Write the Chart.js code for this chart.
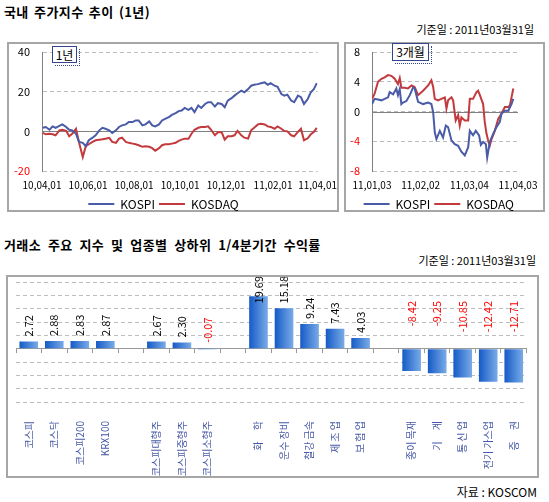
<!DOCTYPE html>
<html>
<head>
<meta charset="utf-8">
<script src="https://cdn.jsdelivr.net/npm/chart.js@4.4.1/dist/chart.umd.min.js"></script>
<style>
  body { margin: 0; width: 549px; height: 502px; background: #fff; position: relative; overflow: hidden;
         font-family: "Noto Sans CJK KR", "Noto Sans", sans-serif; color: #000; }
  .t { position: absolute; font-size: 13px; line-height: 13px; font-weight: bold; white-space: nowrap; letter-spacing: 0.4px; word-spacing: 2px; }
  .d { position: absolute; font-size: 11px; line-height: 11px; white-space: nowrap; }
  .box { position: absolute; border: 2px solid #a6a6a6; box-sizing: border-box; }
  .box canvas { position: absolute; left: 0; top: 0; }
  .tag { position: absolute; border: 1px solid #34458f; box-sizing: border-box; font-size: 12px; line-height: 15px;
         text-align: center; background: #fff; white-space: nowrap; }
  .tag::after { content: ''; position: absolute; left: 2px; top: 2px; right: -4px; bottom: -4px;
                border-right: 1px dotted #34458f; border-bottom: 1px dotted #34458f; }
</style>
</head>
<body>

<div class="t" style="left:4px;top:5px">국내 주가지수 추이 (1년)</div>
<div class="d" style="right:15px;top:24px">기준일 : 2011년03월31일</div>

<div class="box" style="left:7px;top:42px;width:332px;height:170px"><canvas id="c1" width="328" height="176"></canvas></div>
<div class="box" style="left:344px;top:42px;width:201px;height:170px"><canvas id="c2" width="197" height="176"></canvas></div>
<div class="tag" style="left:52px;top:46px;width:25px;height:17px">1년</div>
<div class="tag" style="left:392px;top:43px;width:37px;height:18px">3개월</div>

<div class="t" style="left:4px;top:238px;word-spacing:3.5px">거래소 주요 지수 및 업종별 상하위 1/4분기간 수익률</div>
<div class="d" style="right:13px;top:255px">기준일 : 2011년03월31일</div>

<div class="box" style="left:6px;top:275px;width:533px;height:203px"><canvas id="c3" width="529" height="199"></canvas></div>
<div class="d" style="right:12px;top:486px;font-size:12px;line-height:12px">자료 : KOSCOM</div>

<script>
// 1년 차트: 2010-04-01 기준 경과일, 수익률(%)
const yearDays = [1, 5, 10, 14, 18, 23, 27, 32, 36, 40, 45, 49, 54, 58, 62, 67, 71, 76, 80, 84,
  89, 93, 98, 102, 106, 111, 115, 120, 124, 128, 133, 137, 142, 146, 150, 155, 159, 163, 168, 172,
  177, 181, 185, 189, 194, 198, 202, 207, 211, 216, 220, 224, 229, 233, 238, 242, 246, 251, 255, 259,
  264, 268, 273, 277, 281, 286, 290, 295, 299, 303, 308, 312, 317, 321, 325, 330, 334, 339, 343, 347,
  352, 356, 360, 364];
const yearKospi = [1.8, 2.2, 0.8, 2.5, 1.8, 2.8, 3.5, 2.2, 0.8, 0.5, -1.2, -5.3, -5.8, -7.5, -4.5, -3.2, -2, 0.5, 1.8, 1.3,
  0.5, -0.8, 0.5, 2.2, 3, 3.5, 4.7, 4.7, 5.5, 5.5, 3, 3.5, 5, 3, 2.5, 3.5, 5.5, 6.3, 7.2, 8.3,
  9.2, 10.2, 10.5, 11.8, 10.8, 11.8, 9.7, 13, 11.8, 13.8, 14.7, 14.7, 12.5, 14.2, 13.8, 12.2, 15.5, 16.7, 18, 19.2,
  20.5, 19.7, 21.3, 23, 23.5, 23.8, 24.2, 24.7, 23.5, 24.3, 23, 22.5, 18.8, 18, 18.5, 15.5, 14.7, 18, 17.2, 13.8,
  16.3, 19.7, 21.3, 24.3];
const yearKosdaq = [-0.8, -1.5, -1.2, -1.5, -2, 0.5, 0.8, 0.3, -2.5, -1.2, 1.3, -5.5, -13, -7.5, -6.5, -5.3, -4.5, -4.2, -4, -3.7,
  -3.3, -5.3, -5.8, -3.7, -3.2, -5.3, -5.8, -6.2, -6.5, -7, -7.8, -7.5, -7.8, -8.5, -9.8, -8.5, -7, -6.5, -6.5, -6.2,
  -5.8, -4.8, -4.2, -3.7, -3.7, -1.2, 0.8, 1.8, 2.2, 2.2, 2.5, 0.8, -2, -0.5, -0.5, -4.2, -2.5, -2.5, -2, 0.2,
  -2, -3.2, -3.7, 0.5, 1.8, 3.5, 3.8, 3.5, 2.5, 2.2, 1.3, 2.5, 1.3, 0.2, 0, -2, -2.5, -0.3, 1.3, -4.5,
  -3.5, -1.5, -0.3, 1.7];
const yearTickDays = [0, 61, 122, 183, 244, 306, 365];
const yearTickLabels = ['10,04,01', '10,06,01', '10,08,01', '10,10,01', '10,12,01', '11,02,01', '11,04,01'];

// 3개월 차트: 2011-01-03 기준 경과일
const qKospiDays = [0, 1.6, 3.7, 5.8, 7.8, 9.9, 10.9, 13, 15, 16, 17.1, 18.1, 19.1, 21.2, 23.3, 25.3, 26.3, 28.4, 31.5, 34.6,
  36.6, 37.7, 38.7, 39.7, 41.8, 43.8, 45.5, 46.9, 49, 51, 53.1, 55.1, 57.2, 59.3, 60.3, 62.3, 64, 66, 67.1, 68.5,
  70.2, 71, 72.6, 74.7, 76.7, 78.8, 79.8, 81.9, 84, 86, 87.1];
const qKospi = [1.0, 1.7, 1.6, 1.5, 1.7, 1.9, 2.6, 2.3, 3.1, 2.2, 3.0, 1.0, 1.2, 1.4, 2.2, 3.2, 3.1, 1.3, 1.0, 1.2,
  1.0, -0.1, -2.8, -3.7, -2.6, -3.5, -1.9, -2.1, -3.9, -4.4, -4.6, -5.4, -5.9, -4.8, -2.6, -3.2, -2.6, -3.2, -4.5, -4.1,
  -4.4, -6.2, -4.1, -3.0, -2.1, -1.4, -0.3, 0.1, 0.1, 1.0, 1.7];
const qKosdaqDays = [0, 1.6, 3.7, 5.8, 7.8, 9.9, 11.9, 14, 16, 17.1, 18.1, 20.2, 22.2, 24.3, 26.3, 28.4, 31.5, 34.6, 36.6, 37.7,
  38.7, 40.7, 42.8, 44.9, 45.9, 46.9, 49, 50, 51.6, 53.1, 54.1, 55.1, 57.2, 59.3, 60.3, 62.3, 64.4, 65.4, 66.5, 68.5,
  69.5, 70.6, 71.6, 72.6, 73.7, 75.7, 77.8, 79.8, 81.9, 84, 85, 86, 87.1];
const qKosdaq = [1.7, 2.4, 4.0, 4.4, 4.6, 4.9, 4.8, 4.4, 3.7, 4.5, 3.2, 3.2, 3.1, 3.5, 3.3, 2.2, 2.8, 3.5, 4.2, 3.3,
  1.7, 1.5, 1.7, 1.9, 0.4, 1.5, 1.9, 1.5, -1.2, -0.5, -1.9, -0.8, -1.2, -1.2, 1.7, 1.7, 2.6, 2.8, 2.2, 1.0,
  -1.4, -3.0, -3.9, -4.6, -3.7, -2.6, -1.0, -0.3, 0.6, 0.6, 0.8, 1.9, 3.1];
const qTickDays = [0, 30, 60, 90];
const qTickLabels = ['11,01,03', '11,02,02', '11,03,04', '11,04,03'];

// 1/4분기 수익률 (빈 칸은 그룹 간격)
const barLabels = ['코스피', '코스닥', '코스피200', 'KRX100', '',
  '코스피대형주', '코스피중형주', '코스피소형주', '',
  '화     학', '운수 장비', '철강 금속', '제 조 업', '보 험 업', '',
  '종이 목재', '기     계', '통 신 업', '전기 가스업', '증     권'];
const barValues = [2.72, 2.88, 2.83, 2.87, null,
  2.67, 2.30, -0.07, null,
  19.69, 15.18, 9.24, 7.43, 4.03, null,
  -8.42, -9.25, -10.85, -12.42, -12.71];

Chart.defaults.font.family = '"Noto Sans CJK KR", "Noto Sans", sans-serif';
Chart.defaults.font.size = 11;
Chart.defaults.color = '#000';

const KOSPI_COLOR = '#4a5ba7';
const KOSDAQ_COLOR = '#c33a3e';

// solid zero line on the line charts
const zeroLine = {
  id: 'zeroLine',
  beforeDatasetsDraw(chart) {
    const y = Math.round(chart.scales.y.getPixelForValue(0)) + 0.5;
    const { left, right } = chart.chartArea;
    const ctx = chart.ctx;
    ctx.save();
    ctx.strokeStyle = '#808080';
    ctx.lineWidth = 1;
    ctx.beginPath();
    ctx.moveTo(left, y);
    ctx.lineTo(right, y);
    ctx.stroke();
    ctx.restore();
  }
};

function lineChart(id, opt) {
  return new Chart(document.getElementById(id), {
    type: 'line',
    data: {
      datasets: [
        { label: 'KOSPI', data: opt.kospiDays.map((d, i) => ({ x: d, y: opt.kospi[i] })),
          borderColor: KOSPI_COLOR, backgroundColor: KOSPI_COLOR, borderWidth: 2, pointRadius: 0, tension: 0 },
        { label: 'KOSDAQ', data: opt.kosdaqDays.map((d, i) => ({ x: d, y: opt.kosdaq[i] })),
          borderColor: KOSDAQ_COLOR, backgroundColor: KOSDAQ_COLOR, borderWidth: 2, pointRadius: 0, tension: 0 }
      ]
    },
    options: {
      responsive: false,
      animation: false,
      layout: { padding: { left: 0, right: opt.right, top: 8, bottom: 0 } },
      plugins: {
        legend: {
          position: 'bottom',
          align: opt.legendAlign,
          labels: { usePointStyle: true, pointStyle: 'line', pointStyleWidth: 26, padding: 4,
                    color: '#000', font: { size: 12 } }
        },
        tooltip: { enabled: false }
      },
      scales: {
        x: {
          type: 'linear',
          min: opt.xMin,
          max: opt.xMax,
          // invisible tick marks give the label offset without widening the edge padding
          grid: { display: true, drawOnChartArea: false, drawTicks: true, tickLength: 8, tickColor: 'rgba(0,0,0,0)' },
          border: { display: false },
          afterBuildTicks: s => { s.ticks = opt.tickDays.map(v => ({ value: v })); },
          afterFit: s => { s.height = 23; },
          ticks: { autoSkip: false, maxRotation: 0, padding: 0, font: { size: 10 },
                   callback: (v, i) => opt.tickLabels[i] }
        },
        y: {
          min: opt.yMin,
          max: opt.yMax,
          ticks: { stepSize: opt.step, padding: 0,
                   color: c => c.tick.value < 0 ? '#ff0000' : '#000' },
          grid: { color: '#bdbdbd', drawTicks: true, tickLength: 12, tickColor: 'rgba(0,0,0,0)' },
          border: { display: true, color: '#808080', dash: [4, 3] },
          afterFit: s => { s.width = opt.yWidth; }
        }
      }
    },
    plugins: [zeroLine]
  });
}

lineChart('c1', {
  kospiDays: yearDays, kospi: yearKospi, kosdaqDays: yearDays, kosdaq: yearKosdaq,
  xMin: 0, xMax: 365, tickDays: yearTickDays, tickLabels: yearTickLabels,
  yMin: -20, yMax: 40, step: 20, yWidth: 33, right: 19, legendAlign: 'center'
});

lineChart('c2', {
  kospiDays: qKospiDays, kospi: qKospi, kosdaqDays: qKosdaqDays, kosdaq: qKosdaq,
  xMin: 0, xMax: 90, tickDays: qTickDays, tickLabels: qTickLabels,
  yMin: -8, yMax: 8, step: 4, yWidth: 26, right: 25, legendAlign: 'end'
});

// rotated value labels above the bars
const valueLabels = {
  id: 'valueLabels',
  afterDatasetsDraw(chart) {
    const ctx = chart.ctx;
    const area = chart.chartArea;
    const zero = chart.scales.y.getPixelForValue(0);
    const meta = chart.getDatasetMeta(0);
    ctx.save();
    ctx.font = '11px "Noto Sans CJK KR", sans-serif';
    ctx.textBaseline = 'middle';
    ctx.textAlign = 'left';
    meta.data.forEach((bar, i) => {
      const v = barValues[i];
      if (v === null) return;
      const txt = v.toFixed(2);
      const w = ctx.measureText(txt).width;
      let bottom;
      if (v >= 0) {
        bottom = bar.y - 5;
        if (bottom - w < area.top - 6) bottom = area.top - 6 + w;
      } else if (bar.y - zero < 10) {
        bottom = zero - 6;
      } else {
        bottom = area.top + 19 + w;
      }
      ctx.fillStyle = v < 0 ? '#ff0000' : '#000';
      ctx.save();
      ctx.translate(bar.x, bottom);
      ctx.rotate(-Math.PI / 2);
      ctx.fillText(txt, 0, 0);
      ctx.restore();
    });
    ctx.restore();
  }
};

new Chart(document.getElementById('c3'), {
  type: 'bar',
  data: {
    labels: barLabels,
    datasets: [{
      data: barValues,
      barPercentage: 0.73,
      categoryPercentage: 1,
      borderWidth: 0,
      backgroundColor: c => {
        const chart = c.chart;
        const xs = chart.scales.x;
        if (!chart.chartArea || !xs) return '#3d7ad6';
        const half = xs.width / barLabels.length * 0.73 / 2;
        const cx = xs.getPixelForValue(c.dataIndex);
        const g = chart.ctx.createLinearGradient(cx - half, 0, cx + half, 0);
        g.addColorStop(0, '#155ac6');
        g.addColorStop(1, '#79abe7');
        return g;
      }
    }]
  },
  options: {
    responsive: false,
    animation: false,
    layout: { padding: { left: 8, right: 10, top: 5, bottom: 0 } },
    plugins: { legend: { display: false }, tooltip: { enabled: false } },
    scales: {
      x: {
        position: { y: 0 },
        offset: true,
        grid: { offset: true, drawOnChartArea: false, drawTicks: true, tickLength: 4, color: '#999' },
        border: { display: true, color: '#999' },
        ticks: { display: false }
      },
      x2: {
        type: 'category',
        position: 'bottom',
        offset: true,
        grid: { display: false },
        border: { display: false },
        ticks: { autoSkip: false, minRotation: 90, maxRotation: 90, padding: 11, color: '#4557a6', font: { size: 10 } },
        afterFit: s => { s.height = 74; }
      },
      y: {
        min: -20,
        max: 25,
        ticks: { stepSize: 5, display: false },
        grid: { color: '#bdbdbd', drawTicks: false },
        border: { display: false, dash: [4, 3] },
        afterFit: s => { s.width = 0; }
      }
    }
  },
  plugins: [valueLabels]
});
</script>
</body>
</html>
